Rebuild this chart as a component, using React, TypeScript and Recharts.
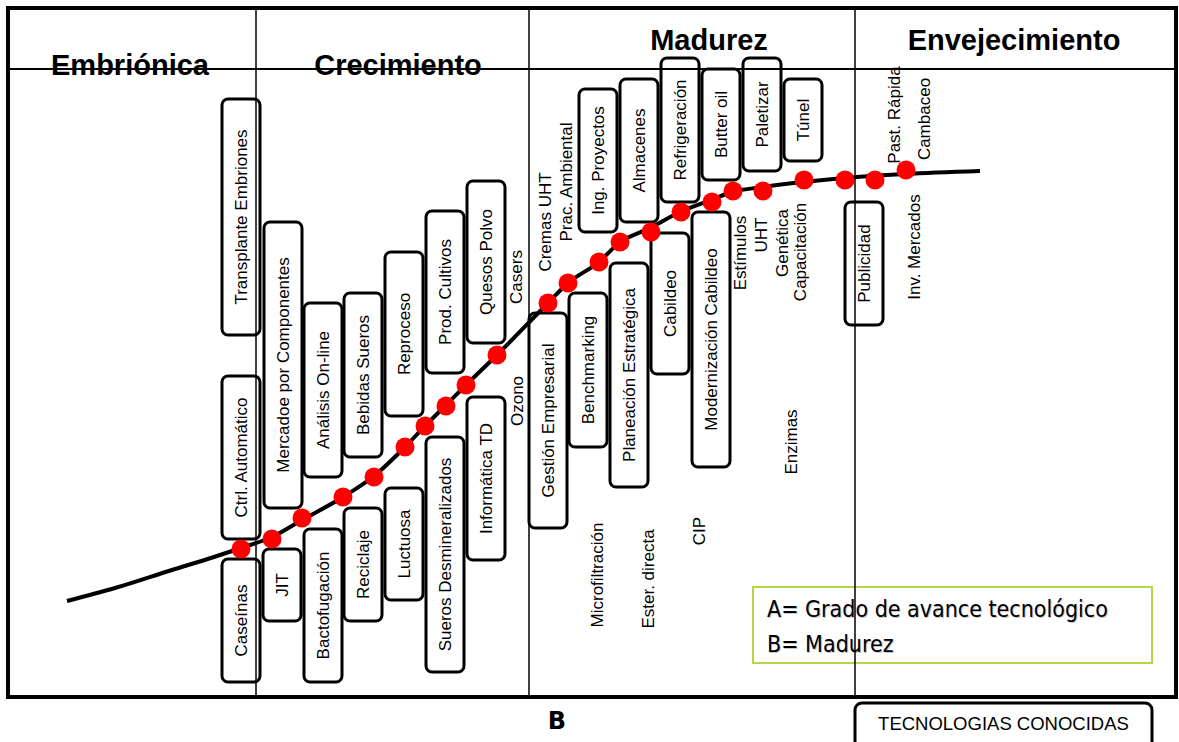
import React from 'react';
import { ComposedChart, XAxis, YAxis, Line, Scatter, ReferenceArea, ReferenceLine } from 'recharts';

const W = 1179;
const H = 742;

// Life-cycle phases (x = madurez)
const phaseNames = ['Embriónica', 'Crecimiento', 'Madurez', 'Envejecimiento'];
const phaseStart = [8, 256, 529, 855];
const phaseEnd = [256, 529, 855, 1176];
const phaseLabelX = [130, 398, 709, 1014];
const phaseLabelY = [75, 75, 50, 50];

// S-curve (grado de avance tecnológico vs madurez)
const curveX = [67, 115, 172, 214, 241, 272, 302, 343, 374, 405, 425, 446, 466, 497, 548, 568, 599, 619, 650, 680, 711, 732, 763, 803, 844, 905, 980];
const curveY = [601, 588, 570, 557, 548, 537, 520, 497, 476, 447, 426, 405, 385, 355, 303, 283, 262, 243, 228, 212, 200, 192, 187, 182, 178, 174, 171];

// Technologies marked on the curve
const dotX = [241, 272, 302, 343, 374, 405, 425, 446, 466, 497, 548, 568, 599, 620, 651, 681, 712, 733, 763, 804, 845, 875, 906];
const dotY = [549, 539, 518, 497, 477, 447, 426, 406, 385, 355, 303, 283, 262, 242, 232, 212, 202, 191, 191, 180, 180, 180, 170];

// Boxed technologies
const boxNames = [
  'Transplante Embriones', 'Ctrl. Automático', 'Caseínas', 'Mercadoe por Componentes', 'JIT',
  'Análisis On-line', 'Bactofugación', 'Bebidas Sueros', 'Reciclaje', 'Reproceso', 'Luctuosa',
  'Prod. Cultivos', 'Sueros Desmineralizados', 'Quesos Polvo', 'Informática TD', 'Gestión Empresarial',
  'Benchmarking', 'Ing. Proyectos', 'Planeación Estratégica', 'Almacenes', 'Cabildeo', 'Refrigeración',
  'Modernización Cabildeo', 'Butter oil', 'Paletizar', 'Túnel', 'Publicidad',
];
const boxX = [241, 241, 241, 283, 282, 323, 323, 363, 363, 404, 404, 445, 445, 486, 486, 548, 588, 598, 629, 639, 670, 680, 711, 721, 762, 803, 864];
const boxTop = [99, 376, 559, 222, 549, 303, 529, 293, 508, 252, 488, 211, 437, 181, 397, 313, 293, 89, 263, 79, 233, 58, 212, 69, 58, 79, 202];
const boxBottom = [335, 539, 682, 508, 621, 477, 682, 457, 621, 416, 600, 373, 672, 343, 560, 528, 447, 232, 487, 222, 374, 202, 467, 180, 171, 161, 325];

// Free-text technologies
const textNames = ['Casers', 'Cremas UHT', 'Prac. Ambiental', 'Ozono', 'Microfiltración', 'Ester. directa', 'CIP', 'Enzimas', 'Estímulos', 'UHT', 'Genética', 'Capacitación', 'Past. Rápida', 'Cambaceo', 'Inv. Mercados'];
const textX = [516, 545, 566, 517, 597, 648, 699, 791, 740, 761, 782, 800, 894, 924, 914];
const textY = [277, 222, 182, 401, 575, 579, 531, 442, 253, 235, 243, 252, 115, 119, 247];

// Legend
const legendLines = ['A= Grado de avance tecnológico', 'B= Madurez'];
const axisLabelB = 'B';
const knownTechLabel = 'TECNOLOGIAS CONOCIDAS';

const curve = curveX.map((x, i) => ({ x, y: curveY[i] }));
const dots = dotX.map((x, i) => ({ x, y: dotY[i] }));
const texts = textNames.map((name, i) => ({ x: textX[i], y: textY[i], name }));
const headers = phaseNames.map((name, i) => ({ x: phaseLabelX[i], y: phaseLabelY[i], name }));

const BOX_HALF = 19;
const ARIAL = "'Liberation Sans', Arial, sans-serif";

const RotText = (props: any) => {
  const { cx, cy, payload } = props;
  return (
    <text x={cx} y={cy} transform={`rotate(-90 ${cx} ${cy})`} textAnchor="middle" dominantBaseline="central"
      fontFamily={ARIAL} fontSize={17} fill="#000">{payload.name}</text>
  );
};

const HeaderText = (props: any) => {
  const { cx, cy, payload } = props;
  return (
    <text x={cx} y={cy} textAnchor="middle" fontFamily={ARIAL} fontWeight="bold" fontSize={29} fill="#000">{payload.name}</text>
  );
};

const Dot = (props: any) => <circle cx={props.cx} cy={props.cy} r={9.5} fill="#ff0000" />;

const boxShape = (name: string) => (p: any) => {
  const cx = p.x + p.width / 2;
  const cy = p.y + p.height / 2;
  return (
    <g>
      <rect x={p.x} y={p.y} width={p.width} height={p.height} rx={6} ry={6} fill="#fff" stroke="#000" strokeWidth={3} />
      <text x={cx} y={cy} transform={`rotate(-90 ${cx} ${cy})`} textAnchor="middle" dominantBaseline="central"
        fontFamily={ARIAL} fontSize={17} fill="#000">{name}</text>
    </g>
  );
};

const LEGEND_FONT = "'DejaVu Sans Condensed', 'DejaVu Sans', sans-serif";

const legendShape = (p: any) => (
  <g>
    <rect x={p.x} y={p.y} width={p.width} height={p.height} fill="#fff" stroke="#b5d63e" strokeWidth={2} />
    {legendLines.map((l, i) => (
      <g key={i}>
        <text x={p.x + 15} y={p.y + 31 + i * 34.5} fontFamily={LEGEND_FONT} fontStretch="condensed" fontSize={23} fill="#c8c8c8">{l}</text>
        <text x={p.x + 14} y={p.y + 30 + i * 34.5} fontFamily={LEGEND_FONT} fontStretch="condensed" fontSize={23} fill="#000">{l}</text>
      </g>
    ))}
  </g>
);

const knownShape = (p: any) => (
  <g>
    <rect x={p.x} y={p.y} width={p.width} height={p.height} rx={7} ry={7} fill="#fff" stroke="#000" strokeWidth={3} />
    <text x={p.x + p.width / 2} y={p.y + 27} textAnchor="middle" fontFamily={ARIAL} fontSize={18.5} fill="#000">{knownTechLabel}</text>
  </g>
);

const BText = (props: any) => (
  <text x={props.cx} y={props.cy} textAnchor="middle" fontFamily="'DejaVu Sans', sans-serif" fontWeight="bold" fontSize={24} fill="#000">{axisLabelB}</text>
);

export default function App() {
  return (
    <div style={{ position: 'absolute', left: 0, top: 0, width: W, height: H, background: '#fff' }}>
      <ComposedChart width={W} height={H} margin={{ top: 0, right: 0, bottom: 0, left: 0 }}>
        <XAxis type="number" dataKey="x" domain={[0, W]} hide allowDataOverflow />
        <YAxis type="number" dataKey="y" domain={[0, H]} reversed hide allowDataOverflow />

        <ReferenceArea x1={phaseStart[0]} x2={phaseEnd[3]} y1={8} y2={697} fill="none" stroke="#000" strokeWidth={4} fillOpacity={0} ifOverflow="visible" />
        <ReferenceLine segment={[{ x: phaseStart[0], y: 69 }, { x: phaseEnd[3], y: 69 }]} stroke="#000" strokeWidth={2} ifOverflow="visible" />
        {phaseStart.slice(1).map((x, i) => (
          <ReferenceLine key={'d' + i} segment={[{ x, y: 8 }, { x, y: 697 }]} stroke="#000" strokeWidth={1.5} ifOverflow="visible" />
        ))}

        {boxNames.map((name, i) => (
          <ReferenceArea key={'b' + i} x1={boxX[i] - BOX_HALF} x2={boxX[i] + BOX_HALF} y1={boxTop[i]} y2={boxBottom[i]}
            shape={boxShape(name)} ifOverflow="visible" />
        ))}

        <ReferenceArea x1={753} x2={1152} y1={587} y2={663} shape={legendShape} ifOverflow="visible" />
        <ReferenceArea x1={855} x2={1152} y1={703} y2={760} shape={knownShape} ifOverflow="visible" />

        <Line data={curve} dataKey="y" type="monotone" stroke="#000" strokeWidth={4} dot={false} activeDot={false} isAnimationActive={false} />
        <Scatter data={dots} shape={Dot} isAnimationActive={false} />
        <Scatter data={texts} shape={RotText} isAnimationActive={false} />
        <Scatter data={headers} shape={HeaderText} isAnimationActive={false} />
        <Scatter data={[{ x: 557, y: 729 }]} shape={BText} isAnimationActive={false} />
      </ComposedChart>
    </div>
  );
}
